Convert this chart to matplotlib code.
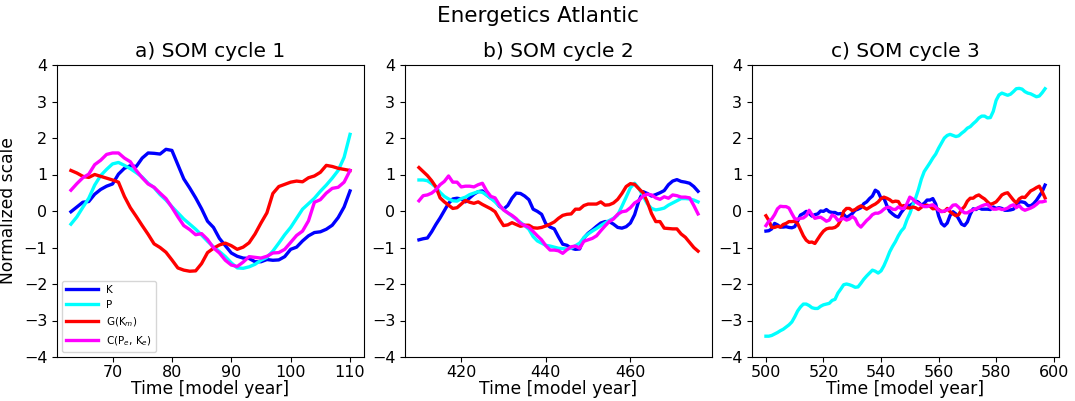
import numpy as np
import matplotlib
matplotlib.use('Agg')
import matplotlib.pyplot as plt

# --- данные ---
years_a = np.arange(63, 111)
K_a = [-0.02, 0.11, 0.24, 0.26, 0.46, 0.59, 0.68, 0.74, 1.01, 1.17, 1.24, 1.22, 1.45, 1.59, 1.58, 1.56,
       1.69, 1.66, 1.27, 0.88, 0.63, 0.36, 0.06, -0.28, -0.45, -0.75, -0.95, -1.15, -1.24, -1.29, -1.30,
       -1.39, -1.39, -1.33, -1.35, -1.34, -1.25, -1.05, -0.99, -0.82, -0.68, -0.59, -0.57, -0.50, -0.39,
       -0.18, 0.11, 0.55]
P_a = [-0.36, -0.16, 0.10, 0.35, 0.71, 0.97, 1.14, 1.29, 1.33, 1.25, 1.16, 1.05, 0.93, 0.76, 0.64, 0.45,
       0.30, 0.12, -0.05, -0.22, -0.36, -0.50, -0.66, -0.83, -0.98, -1.11, -1.25, -1.42, -1.56, -1.57,
       -1.53, -1.46, -1.35, -1.27, -1.10, -0.88, -0.65, -0.45, -0.20, 0.05, 0.20, 0.35, 0.54, 0.71, 0.90,
       1.11, 1.47, 2.10]
G_a = [1.11, 1.04, 0.95, 0.92, 1.00, 0.95, 0.90, 0.85, 0.79, 0.40, 0.09, -0.15, -0.40, -0.64, -0.90,
       -1.00, -1.13, -1.34, -1.56, -1.62, -1.65, -1.64, -1.44, -1.14, -1.02, -0.93, -0.88, -0.95, -1.05,
       -0.99, -0.87, -0.63, -0.33, -0.05, 0.48, 0.67, 0.73, 0.79, 0.82, 0.80, 0.91, 0.96, 1.06, 1.25, 1.22,
       1.17, 1.14, 1.11]
C_a = [0.57, 0.75, 0.91, 1.01, 1.27, 1.39, 1.55, 1.59, 1.59, 1.45, 1.35, 1.11, 0.91, 0.74, 0.65, 0.49,
       0.34, 0.10, -0.16, -0.40, -0.51, -0.65, -0.62, -0.78, -1.01, -1.15, -1.35, -1.48, -1.52, -1.40,
       -1.25, -1.27, -1.29, -1.24, -1.15, -1.14, -1.05, -0.86, -0.67, -0.55, -0.27, 0.24, 0.31, 0.49, 0.62,
       0.65, 0.79, 1.11]

years_b = np.arange(410, 477)
K_b = [-0.79, -0.76, -0.74, -0.57, -0.37, -0.19, 0.01, 0.21, 0.33, 0.35, 0.33, 0.25, 0.36, 0.46, 0.53,
       0.55, 0.44, 0.35, 0.28, 0.13, 0.05, 0.15, 0.35, 0.49, 0.48, 0.41, 0.31, 0.05, -0.01, -0.09, -0.35,
       -0.44, -0.49, -0.71, -0.91, -0.94, -1.02, -1.05, -1.04, -0.74, -0.61, -0.52, -0.42, -0.33, -0.29,
       -0.29, -0.36, -0.45, -0.47, -0.43, -0.33, -0.10, 0.28, 0.53, 0.48, 0.41, 0.45, 0.50, 0.56, 0.72,
       0.82, 0.86, 0.81, 0.79, 0.76, 0.67, 0.54]
P_b = [0.85, 0.85, 0.83, 0.75, 0.65, 0.51, 0.40, 0.33, 0.28, 0.27, 0.34, 0.38, 0.45, 0.49, 0.53, 0.51,
       0.44, 0.35, 0.25, 0.14, 0.04, -0.05, -0.14, -0.23, -0.31, -0.40, -0.50, -0.70, -0.82, -0.88, -0.94,
       -0.96, -0.99, -1.02, -1.03, -1.04, -1.02, -0.95, -0.88, -0.73, -0.63, -0.55, -0.48, -0.40, -0.33,
       -0.26, -0.20, -0.11, 0.13, 0.38, 0.64, 0.76, 0.62, 0.41, 0.20, 0.07, 0.03, 0.05, 0.08, 0.16, 0.22,
       0.28, 0.34, 0.34, 0.33, 0.30, 0.25]
G_b = [1.19, 1.08, 0.97, 0.83, 0.66, 0.36, 0.25, 0.16, 0.07, 0.09, 0.19, 0.29, 0.24, 0.21, 0.25, 0.18,
       0.12, 0.06, -0.02, -0.22, -0.40, -0.38, -0.32, -0.37, -0.42, -0.39, -0.39, -0.46, -0.47, -0.45,
       -0.41, -0.36, -0.30, -0.20, -0.12, -0.09, -0.08, 0.05, 0.05, 0.15, 0.19, 0.19, 0.19, 0.25, 0.16,
       0.17, 0.22, 0.32, 0.48, 0.67, 0.75, 0.73, 0.61, 0.50, 0.25, -0.07, -0.29, -0.29, -0.47, -0.48,
       -0.49, -0.49, -0.63, -0.72, -0.86, -1.00, -1.10]
C_b = [0.28, 0.42, 0.44, 0.49, 0.58, 0.72, 0.81, 0.96, 0.79, 0.79, 0.66, 0.68, 0.68, 0.66, 0.72, 0.76,
       0.55, 0.40, 0.36, 0.17, 0.03, -0.05, -0.12, -0.21, -0.34, -0.40, -0.45, -0.56, -0.68, -0.79, -0.95,
       -1.07, -1.07, -1.09, -1.16, -1.06, -0.98, -0.96, -1.02, -0.83, -0.79, -0.75, -0.68, -0.54, -0.41,
       -0.29, -0.22, -0.09, -0.02, 0.00, 0.09, 0.22, 0.29, 0.41, 0.46, 0.44, 0.36, 0.32, 0.39, 0.35, 0.44,
       0.42, 0.38, 0.38, 0.36, 0.15, -0.08]

years_c = np.arange(500, 598)
K_c = [-0.55, -0.54, -0.49, -0.34, -0.38, -0.44, -0.44, -0.43, -0.45, -0.46, -0.43, -0.28, -0.11, -0.07,
       -0.01, -0.07, -0.14, -0.10, -0.08, 0.00, -0.01, 0.04, -0.02, -0.04, -0.04, -0.08, -0.07, -0.09,
       -0.18, -0.13, -0.07, 0.02, 0.05, 0.09, 0.20, 0.25, 0.34, 0.41, 0.57, 0.52, 0.35, 0.35, 0.15, -0.01,
       -0.08, -0.14, -0.17, -0.04, 0.06, 0.15, 0.15, 0.20, 0.28, 0.24, 0.16, 0.21, 0.30, 0.30, 0.34, 0.19,
       -0.13, -0.34, -0.41, -0.33, -0.12, -0.02, -0.08, -0.22, -0.36, -0.40, -0.30, -0.09, 0.06, 0.04,
       0.09, 0.05, 0.05, 0.05, 0.04, 0.11, 0.07, 0.09, 0.07, 0.02, 0.02, 0.03, 0.05, 0.14, 0.25, 0.25,
       0.23, 0.15, 0.14, 0.20, 0.29, 0.41, 0.53, 0.71]
P_c = [-3.43, -3.43, -3.41, -3.37, -3.33, -3.28, -3.24, -3.18, -3.12, -3.04, -2.90, -2.74, -2.63, -2.55,
       -2.55, -2.59, -2.65, -2.67, -2.67, -2.61, -2.57, -2.55, -2.53, -2.45, -2.42, -2.25, -2.14, -2.02,
       -2.00, -2.02, -2.05, -2.09, -2.08, -1.98, -1.87, -1.78, -1.70, -1.62, -1.65, -1.70, -1.64, -1.50,
       -1.32, -1.12, -0.97, -0.84, -0.68, -0.55, -0.46, -0.24, -0.07, 0.15, 0.35, 0.59, 0.87, 1.08, 1.20,
       1.32, 1.45, 1.56, 1.72, 1.86, 2.00, 2.07, 2.10, 2.07, 2.04, 2.06, 2.13, 2.19, 2.27, 2.31, 2.39,
       2.46, 2.55, 2.60, 2.60, 2.55, 2.56, 2.73, 3.03, 3.18, 3.23, 3.20, 3.17, 3.20, 3.27, 3.35, 3.36,
       3.34, 3.27, 3.23, 3.21, 3.17, 3.13, 3.15, 3.24, 3.35]
G_c = [-0.13, -0.26, -0.45, -0.45, -0.42, -0.44, -0.37, -0.34, -0.29, -0.29, -0.28, -0.34, -0.51, -0.68,
       -0.80, -0.86, -0.85, -0.89, -0.77, -0.65, -0.55, -0.49, -0.47, -0.47, -0.45, -0.39, -0.25, -0.01,
       0.07, 0.07, 0.01, 0.04, 0.10, 0.14, 0.10, 0.05, 0.10, 0.15, 0.19, 0.25, 0.34, 0.38, 0.35, 0.31,
       0.25, 0.27, 0.26, 0.13, 0.15, 0.09, 0.08, 0.11, 0.09, 0.04, 0.10, 0.15, 0.16, 0.13, 0.06, 0.07,
       0.04, -0.01, -0.01, 0.07, -0.02, -0.08, -0.13, -0.10, 0.04, 0.12, 0.27, 0.35, 0.35, 0.41, 0.44,
       0.38, 0.33, 0.25, 0.18, 0.21, 0.25, 0.34, 0.44, 0.48, 0.50, 0.40, 0.30, 0.22, 0.33, 0.38, 0.37,
       0.46, 0.55, 0.59, 0.64, 0.68, 0.53, 0.36]
C_c = [-0.40, -0.28, -0.22, -0.10, 0.06, 0.13, 0.12, 0.12, 0.08, -0.07, -0.21, -0.23, -0.20, -0.19,
       -0.13, 0.02, -0.10, -0.20, -0.18, -0.17, -0.22, -0.28, -0.25, -0.11, -0.15, -0.26, -0.23, -0.20,
       -0.25, -0.22, -0.15, -0.21, -0.37, -0.44, -0.35, -0.26, -0.19, -0.10, -0.06, -0.06, -0.02, 0.05,
       0.10, 0.10, 0.05, 0.04, 0.11, 0.07, 0.07, 0.20, 0.38, 0.33, 0.25, 0.20, 0.16, 0.12, 0.12, 0.15,
       0.17, 0.11, 0.02, -0.02, 0.00, 0.03, 0.07, 0.16, 0.17, 0.10, 0.01, -0.05, -0.05, 0.00, 0.03, 0.06,
       0.10, 0.14, 0.17, 0.18, 0.10, 0.05, 0.05, 0.07, 0.04, 0.05, 0.08, 0.14, 0.17, 0.09, 0.15, 0.06,
       0.02, 0.05, 0.08, 0.12, 0.18, 0.25, 0.25, 0.27]

labels = ['K', 'P', r'G(K$_m$)', r'C(P$_e$, K$_e$)']
colors = ['#0000ff', 'cyan', 'red', 'magenta']
titles = ['a) SOM cycle 1', 'b) SOM cycle 2', 'c) SOM cycle 3']

panels = [
    (years_a, [K_a, P_a, G_a, C_a], [70, 80, 90, 100, 110]),
    (years_b, [K_b, P_b, G_b, C_b], [420, 440, 460]),
    (years_c, [K_c, P_c, G_c, C_c], [500, 520, 540, 560, 580, 600]),
]

fig = plt.figure(figsize=(10.75, 4.01), dpi=100)
lefts = [57 / 1075, 405 / 1075, 752 / 1075]
width = 307 / 1075
bottom = 44 / 401
height = 292 / 401

for i, (x, series, xt) in enumerate(panels):
    ax = fig.add_axes([lefts[i], bottom, width, height])
    for y, lab, col in zip(series, labels, colors):
        ax.plot(x, y, color=col, lw=2.4, label=lab)
    ax.set_ylim(-4, 4)
    ax.set_yticks(range(-4, 5))
    ax.set_xticks(xt)
    ax.tick_params(labelsize=11.5)
    ax.tick_params(axis='x', pad=2)
    ax.set_xlabel('Time [model year]', fontsize=12.3, labelpad=0)
    ax.set_title(titles[i], fontsize=14.5)
    if i == 0:
        ax.set_ylabel('Normalized scale', fontsize=12.3, labelpad=5)
        ax.legend(loc='lower left', fontsize=7.5, handlelength=3)

fig.suptitle('Energetics Atlantic', fontsize=15.5, y=0.985)

plt.savefig('out.png', dpi=100)
